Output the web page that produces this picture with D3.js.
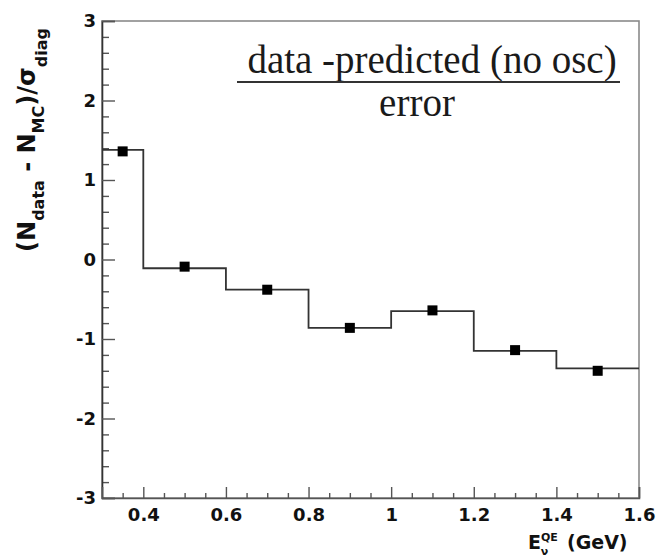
<!DOCTYPE html>
<html>
<head>
<meta charset="utf-8">
<script src="https://cdn.jsdelivr.net/npm/d3@7"></script>
<style>
  html, body { margin: 0; padding: 0; background: #fff; }
  svg { display: block; }
</style>
</head>
<body>
<svg id="chart" width="663" height="559"></svg>
<script>
// Histogram bins (energy edges in GeV) and their levels
const binEdges  = [0.3, 0.4, 0.6, 0.8, 1.0, 1.2, 1.4, 1.6];
const binValues = [1.38, -0.11, -0.38, -0.86, -0.65, -1.15, -1.37];

// Data points at bin centres
const pointX      = [0.35, 0.5, 0.7, 0.9, 1.1, 1.3, 1.5];
const pointValues = [1.36, -0.09, -0.38, -0.86, -0.64, -1.14, -1.40];

// Axis ticks and labels
const xTicks      = [0.4, 0.6, 0.8, 1.0, 1.2, 1.4, 1.6];
const xTickLabels = ["0.4", "0.6", "0.8", "1", "1.2", "1.4", "1.6"];
const yTicks      = [-3, -2, -1, 0, 1, 2, 3];
const yTickLabels = ["-3", "-2", "-1", "0", "1", "2", "3"];

const svg = d3.select("#chart");
const plot = { left: 102, right: 639, top: 21, bottom: 498 };

const x = d3.scaleLinear().domain([0.3, 1.6]).range([plot.left, plot.right]);
const y = d3.scaleLinear().domain([-3, 3]).range([plot.bottom, plot.top]);

const tickFont = "'DejaVu Sans', sans-serif";
const axisColor = "#555";

// Frame
svg.append("rect")
  .attr("x", plot.left).attr("y", plot.top)
  .attr("width", plot.right - plot.left).attr("height", plot.bottom - plot.top)
  .attr("fill", "none").attr("stroke", "#8a8a8a").attr("stroke-width", 1.6);

// Minor ticks
const yMinor = d3.range(-3, 3.0001, 0.2).filter(v => Math.abs(v - Math.round(v)) > 1e-6);
svg.append("g").attr("transform", `translate(${plot.left},0)`)
  .call(d3.axisLeft(y).tickValues(yMinor).tickSize(-7).tickFormat(""))
  .call(g => g.select(".domain").remove())
  .call(g => g.selectAll("line").attr("stroke", axisColor).attr("stroke-width", 1.4));

const xMinor = d3.range(0.35, 1.6001, 0.05).filter(v => Math.abs(v * 5 - Math.round(v * 5)) > 1e-6);
svg.append("g").attr("transform", `translate(0,${plot.bottom})`)
  .call(d3.axisBottom(x).tickValues(xMinor).tickSize(-5).tickFormat(""))
  .call(g => g.select(".domain").remove())
  .call(g => g.selectAll("line").attr("stroke", axisColor).attr("stroke-width", 1.4));

// Major y axis
svg.append("g").attr("transform", `translate(${plot.left},0)`)
  .call(d3.axisLeft(y).tickValues(yTicks).tickSize(-13).tickPadding(6)
        .tickFormat((d, i) => yTickLabels[i]))
  .call(g => g.select(".domain").attr("stroke", "#333").attr("stroke-width", 1.6))
  .call(g => g.selectAll("line").attr("stroke", axisColor).attr("stroke-width", 1.4))
  .call(g => g.selectAll("text").attr("font-family", tickFont).attr("font-weight", "bold")
        .attr("font-size", 18).attr("fill", "#111"));

// Major x axis
svg.append("g").attr("transform", `translate(0,${plot.bottom})`)
  .call(d3.axisBottom(x).tickValues(xTicks).tickSize(-11).tickPadding(10)
        .tickFormat((d, i) => xTickLabels[i]))
  .call(g => g.select(".domain").attr("stroke", axisColor).attr("stroke-width", 1.6))
  .call(g => g.selectAll("line").attr("stroke", axisColor).attr("stroke-width", 1.4))
  .call(g => g.selectAll("text").attr("font-family", tickFont).attr("font-weight", "bold")
        .attr("font-size", 18).attr("fill", "#111"));

// Step histogram
const stepPts = binEdges.map((e, i) => [e, binValues[Math.min(i, binValues.length - 1)]]);
svg.append("path")
  .datum(stepPts)
  .attr("d", d3.line().x(d => x(d[0])).y(d => y(d[1])).curve(d3.curveStepAfter))
  .attr("fill", "none").attr("stroke", "#333").attr("stroke-width", 1.8);

// Square markers
const ms = 10;
svg.append("g").selectAll("rect")
  .data(pointX.map((px, i) => [px, pointValues[i]]))
  .join("rect")
  .attr("x", d => x(d[0]) - ms / 2).attr("y", d => y(d[1]) - ms / 2)
  .attr("width", ms).attr("height", ms).attr("fill", "#000");

// Y axis title
const yTitle = svg.append("text")
  .attr("transform", "translate(35,140) rotate(-90)")
  .attr("text-anchor", "middle")
  .attr("font-family", tickFont).attr("font-weight", "bold")
  .attr("font-size", 24).attr("fill", "#111");
yTitle.append("tspan").text("(N");
yTitle.append("tspan").attr("font-size", 16).attr("dy", 9).text("data");
yTitle.append("tspan").attr("dy", -9).text(" - N");
yTitle.append("tspan").attr("font-size", 16).attr("dy", 9).text("MC");
yTitle.append("tspan").attr("dy", -9).text(")/σ");
yTitle.append("tspan").attr("font-size", 16).attr("dy", 12).text("diag");

// X axis title
const xTitle = svg.append("text")
  .attr("x", 528).attr("y", 549)
  .attr("font-family", tickFont).attr("font-weight", "bold")
  .attr("font-size", 19).attr("fill", "#111");
xTitle.append("tspan").text("E");
xTitle.append("tspan").attr("font-size", 11).attr("dy", -8).text("QE");
xTitle.append("tspan").attr("font-size", 11).attr("dx", -17).attr("dy", 14).text("ν");
xTitle.append("tspan").attr("dx", 12).attr("dy", -6).text(" (GeV)");

// Fraction-style annotation
const serif = "'Liberation Serif', 'Times New Roman', serif";
svg.append("text")
  .attr("x", 432).attr("y", 73).attr("text-anchor", "middle")
  .attr("font-family", serif).attr("font-size", 39).attr("fill", "#1a1a1a")
  .text("data -predicted (no osc)");
svg.append("line")
  .attr("x1", 237).attr("x2", 620).attr("y1", 82).attr("y2", 82)
  .attr("stroke", "#333").attr("stroke-width", 1.8);
svg.append("text")
  .attr("x", 417).attr("y", 116).attr("text-anchor", "middle")
  .attr("font-family", serif).attr("font-size", 39).attr("fill", "#1a1a1a")
  .text("error");
</script>
</body>
</html>
